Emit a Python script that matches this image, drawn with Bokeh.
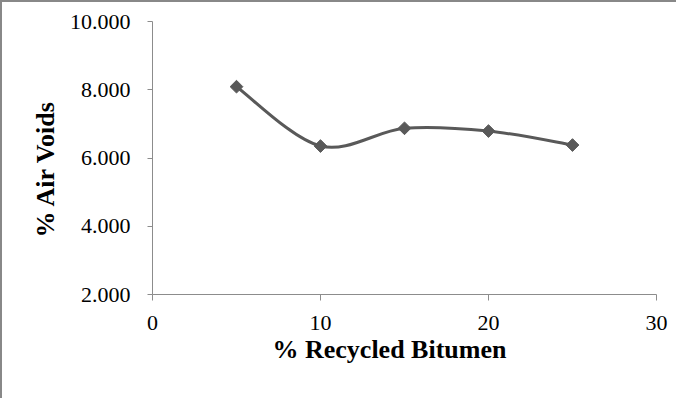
import numpy as np
from bokeh.plotting import figure
from bokeh.models import NumeralTickFormatter, FixedTicker, Range1d, Title
from bokeh.embed import file_html
from bokeh.resources import INLINE

# ---- data ----
recycled = [5, 10, 15, 20, 25]
air_voids = [8.09, 6.35, 6.87, 6.79, 6.38]
x_ticks = [0, 10, 20, 30]
y_ticks = [2, 4, 6, 8, 10]
x_title = "% Recycled Bitumen"
y_title = "% Air Voids"

GRAY = "#595959"
AXIS = "#8c8c8c"
FONT = "Liberation Serif"

p = figure(width=676, height=398, output_backend="svg", toolbar_location=None,
           x_range=Range1d(0, 30), y_range=Range1d(2, 10),
           min_border_left=150, min_border_right=22, min_border_top=19,
           min_border_bottom=106,
           styles={"border-left": "2px solid #888888", "border-top": "2px solid #888888"})
p.outline_line_color = None
p.grid.visible = False
p.background_fill_color = "white"
p.border_fill_color = "white"

# smoothed line (Catmull-Rom style bezier, like a spreadsheet "smoothed line")
xs = np.array(recycled, dtype=float)
ys = np.array(air_voids, dtype=float)
n = len(xs)
x0, y0, x1, y1, cx0, cy0, cx1, cy1 = [], [], [], [], [], [], [], []
for i in range(n - 1):
    pxm, pym = (xs[i - 1], ys[i - 1]) if i > 0 else (xs[i], ys[i])
    pxp, pyp = (xs[i + 2], ys[i + 2]) if i + 2 < n else (xs[i + 1], ys[i + 1])
    x0.append(xs[i]); y0.append(ys[i]); x1.append(xs[i + 1]); y1.append(ys[i + 1])
    cx0.append(xs[i] + (xs[i + 1] - pxm) / 6); cy0.append(ys[i] + (ys[i + 1] - pym) / 6)
    cx1.append(xs[i + 1] - (pxp - xs[i]) / 6); cy1.append(ys[i + 1] - (pyp - ys[i]) / 6)
p.bezier(x0=x0, y0=y0, x1=x1, y1=y1, cx0=cx0, cy0=cy0, cx1=cx1, cy1=cy1,
         line_color=GRAY, line_width=3)
p.scatter(recycled, air_voids, marker="square", angle=np.pi / 4, size=9,
          fill_color=GRAY, line_color=GRAY)

# axes
for ax in (p.xaxis[0], p.yaxis[0]):
    ax.axis_line_color = AXIS
    ax.major_tick_line_color = AXIS
    ax.minor_tick_line_color = None
    ax.major_tick_in = 0
    ax.major_label_text_font = FONT
    ax.major_label_text_font_size = "22px"
    ax.major_label_text_color = "black"

p.xaxis.ticker = FixedTicker(ticks=x_ticks)
p.yaxis.ticker = FixedTicker(ticks=y_ticks)
p.yaxis.formatter = NumeralTickFormatter(format="0.000")
p.xaxis.major_tick_out = 6
p.yaxis.major_tick_out = 5
p.xaxis.major_label_standoff = 15
p.yaxis.major_label_standoff = 17

# axis titles (slightly off-centre as in the original)
title_style = dict(text_font=FONT, text_font_style="bold", text_font_size="26px",
                   text_color="black", align="left")
p.add_layout(Title(text=x_title, offset=120, standoff=0, **title_style), "below")
p.add_layout(Title(text=y_title, offset=57, standoff=14, **title_style), "left")

open("out.html", "w").write(file_html(p, INLINE))
